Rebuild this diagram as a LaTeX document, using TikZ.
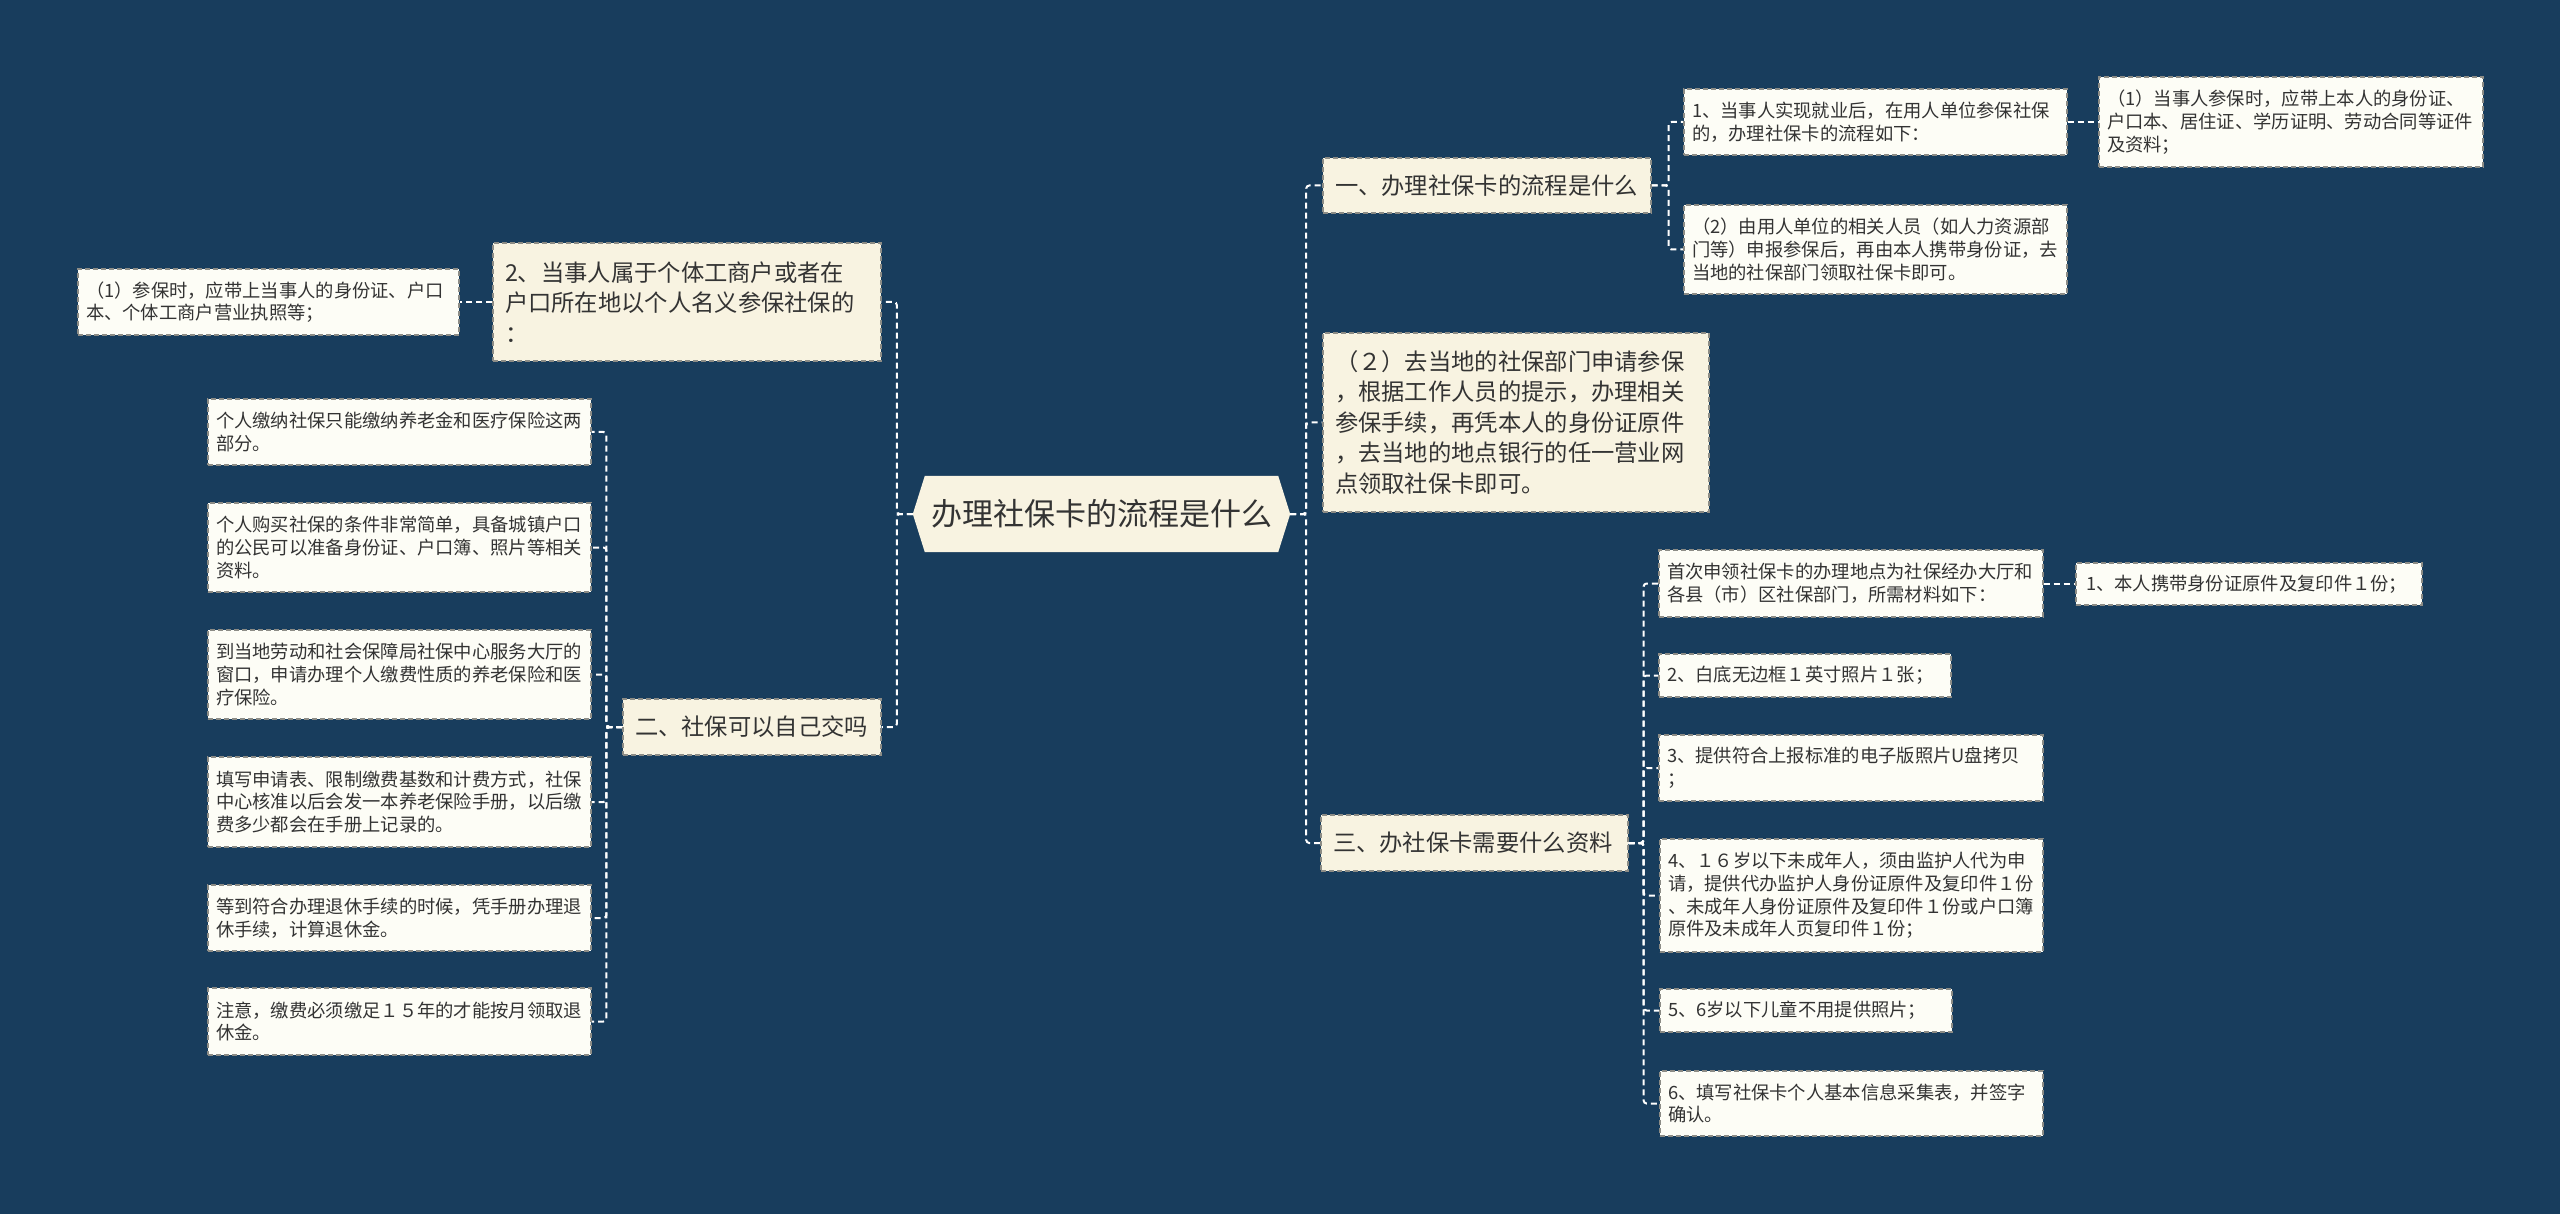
\documentclass[tikz,border=0pt]{standalone}
\usepackage{fontspec}
\newfontfamily\cjkf{Noto Sans CJK SC}
\definecolor{bgc}{HTML}{183D5D}
\definecolor{lvc}{HTML}{F8F3E1}
\definecolor{leafc}{HTML}{FDFDF6}
\definecolor{bordc}{HTML}{8C8C86}
\definecolor{txtc}{HTML}{333333}
\pgfdeclarelayer{bg}\pgfdeclarelayer{mid}\pgfsetlayers{bg,mid,main}
\begin{document}
\begin{tikzpicture}[x=1pt,y=-1pt,
  box/.style={draw=bordc, dash pattern=on 5pt off 3pt, line width=1.2pt, text=txtc, align=left, inner ysep=0pt, anchor=center},
  leaf/.style={box, fill=leafc, inner xsep=8pt, font=\cjkf\fontsize{18.3pt}{22.7pt}\selectfont},
  lv/.style={box, fill=lvc, inner xsep=12pt, font=\cjkf\fontsize{23.3pt}{30.5pt}\selectfont},
  conn/.style={draw=white, line width=2pt, dash pattern=on 6pt off 4pt, rounded corners=3pt}]
\begin{pgfonlayer}{bg}\fill[bgc] (0,0) rectangle (2560,1214);\end{pgfonlayer}
\useasboundingbox (0,0) rectangle (2560,1214);

% centre
\node[font=\cjkf\fontsize{31pt}{36pt}\selectfont, text=txtc, minimum width=377pt, minimum height=76pt, inner sep=0pt] (c) at (1101.5,514) {办理社保卡的流程是什么};

% level one
\node[lv, minimum width=328pt, text width=304pt, minimum height=55pt] (one) at (1487,185.5) {一、办理社保卡的流程是什么};
\node[lv, minimum width=386pt, text width=362pt, minimum height=179pt] (p2) at (1516,422.5) {（２）去当地的社保部门申请参保\\，根据工作人员的提示，办理相关\\参保手续，再凭本人的身份证原件\\，去当地的地点银行的任一营业网\\点领取社保卡即可。};
\node[lv, minimum width=307pt, text width=283pt, minimum height=56pt] (three) at (1474.5,843) {三、办社保卡需要什么资料};
\node[lv, minimum width=258pt, text width=234pt, minimum height=56pt] (two) at (752,727) {二、社保可以自己交吗};
\node[lv, minimum width=388pt, text width=364pt, minimum height=118pt] (b1) at (687,302) {2、当事人属于个体工商户或者在\\户口所在地以个人名义参保社保的\\：};

% leaves right top
\node[leaf, minimum width=383pt, text width=367pt, minimum height=66pt] (a1) at (1875.5,122) {1、当事人实现就业后，在用人单位参保社保\\的，办理社保卡的流程如下：};
\node[leaf, minimum width=384pt, text width=368pt, minimum height=90pt] (a11) at (2291,122) {（1）当事人参保时，应带上本人的身份证、\\户口本、居住证、学历证明、劳动合同等证件\\及资料；};
\node[leaf, minimum width=383pt, text width=367pt, minimum height=89pt] (a2) at (1875.5,249.5) {（2）由用人单位的相关人员（如人力资源部\\门等）申报参保后，再由本人携带身份证，去\\当地的社保部门领取社保卡即可。};

% leaves left
\node[leaf, minimum width=381pt, text width=365pt, minimum height=66pt] (b11) at (268.5,302) {（1）参保时，应带上当事人的身份证、户口\\本、个体工商户营业执照等；};
\node[leaf, minimum width=383pt, text width=367pt, minimum height=66pt] (l1) at (399.5,432) {个人缴纳社保只能缴纳养老金和医疗保险这两\\部分。};
\node[leaf, minimum width=383pt, text width=367pt, minimum height=89pt] (l2) at (399.5,547.5) {个人购买社保的条件非常简单，具备城镇户口\\的公民可以准备身份证、户口簿、照片等相关\\资料。};
\node[leaf, minimum width=383pt, text width=367pt, minimum height=89pt] (l3) at (399.5,674.5) {到当地劳动和社会保障局社保中心服务大厅的\\窗口，申请办理个人缴费性质的养老保险和医\\疗保险。};
\node[leaf, minimum width=383pt, text width=367pt, minimum height=90pt] (l4) at (399.5,802) {填写申请表、限制缴费基数和计费方式，社保\\中心核准以后会发一本养老保险手册，以后缴\\费多少都会在手册上记录的。};
\node[leaf, minimum width=383pt, text width=367pt, minimum height=66pt] (l5) at (399.5,918) {等到符合办理退休手续的时候，凭手册办理退\\休手续，计算退休金。};
\node[leaf, minimum width=383pt, text width=367pt, minimum height=67pt] (l6) at (399.5,1021.5) {注意，缴费必须缴足１５年的才能按月领取退\\休金。};

% leaves right bottom
\node[leaf, minimum width=384pt, text width=368pt, minimum height=67pt] (r1) at (1851,583.5) {首次申领社保卡的办理地点为社保经办大厅和\\各县（市）区社保部门，所需材料如下：};
\node[leaf, minimum width=346pt, text width=326pt, minimum height=42pt, inner xsep=10pt] (r11) at (2249,584) {1、本人携带身份证原件及复印件１份；};
\node[leaf, minimum width=292pt, text width=276pt, minimum height=43pt] (r2) at (1805,675.5) {2、白底无边框１英寸照片１张；};
\node[leaf, minimum width=384pt, text width=368pt, minimum height=66pt] (r3) at (1851,768) {3、提供符合上报标准的电子版照片U盘拷贝\\；};
\node[leaf, minimum width=383pt, text width=367pt, minimum height=113pt] (r4) at (1851.5,895.5) {4、１６岁以下未成年人，须由监护人代为申\\请，提供代办监护人身份证原件及复印件１份\\、未成年人身份证原件及复印件１份或户口簿\\原件及未成年人页复印件１份；};
\node[leaf, minimum width=292pt, text width=276pt, minimum height=43pt] (r5) at (1806,1010.5) {5、6岁以下儿童不用提供照片；};
\node[leaf, minimum width=383pt, text width=367pt, minimum height=65pt] (r6) at (1851.5,1103.5) {6、填写社保卡个人基本信息采集表，并签字\\确认。};

\begin{pgfonlayer}{mid}
  \fill[lvc] (c.west) -- ([xshift=12pt]c.north west) -- ([xshift=-12pt]c.north east) -- (c.east) -- ([xshift=-12pt]c.south east) -- ([xshift=12pt]c.south west) -- cycle;
  \draw[conn] (c.west) -- ++(-16,0) |- (b1.east);
  \draw[conn] (c.west) -- ++(-16,0) |- (two.east);
  \draw[conn] (c.east) -- ++(16,0) |- (one.west);
  \draw[conn] (c.east) -- ++(16,0) |- (p2.west);
  \draw[conn] (c.east) -- ++(16,0) |- (three.west);
  \draw[conn] (one.east) -- ++(17,0) |- (a1.west);
  \draw[conn] (one.east) -- ++(17,0) |- (a2.west);
  \draw[conn] (a1.east) -- (a11.west);
  \draw[conn] (b1.west) -- (b11.east);
  \foreach \n in {l1,l2,l3,l4,l5,l6} \draw[conn] (two.west) -- ++(-16,0) |- (\n.east);
  \foreach \n in {r1,r2,r3,r4,r5,r6} \draw[conn] (three.east) -- ++(15,0) |- (\n.west);
  \draw[conn] (r1.east) -- (r11.west |- r1.east);
\end{pgfonlayer}
\end{tikzpicture}
\end{document}
